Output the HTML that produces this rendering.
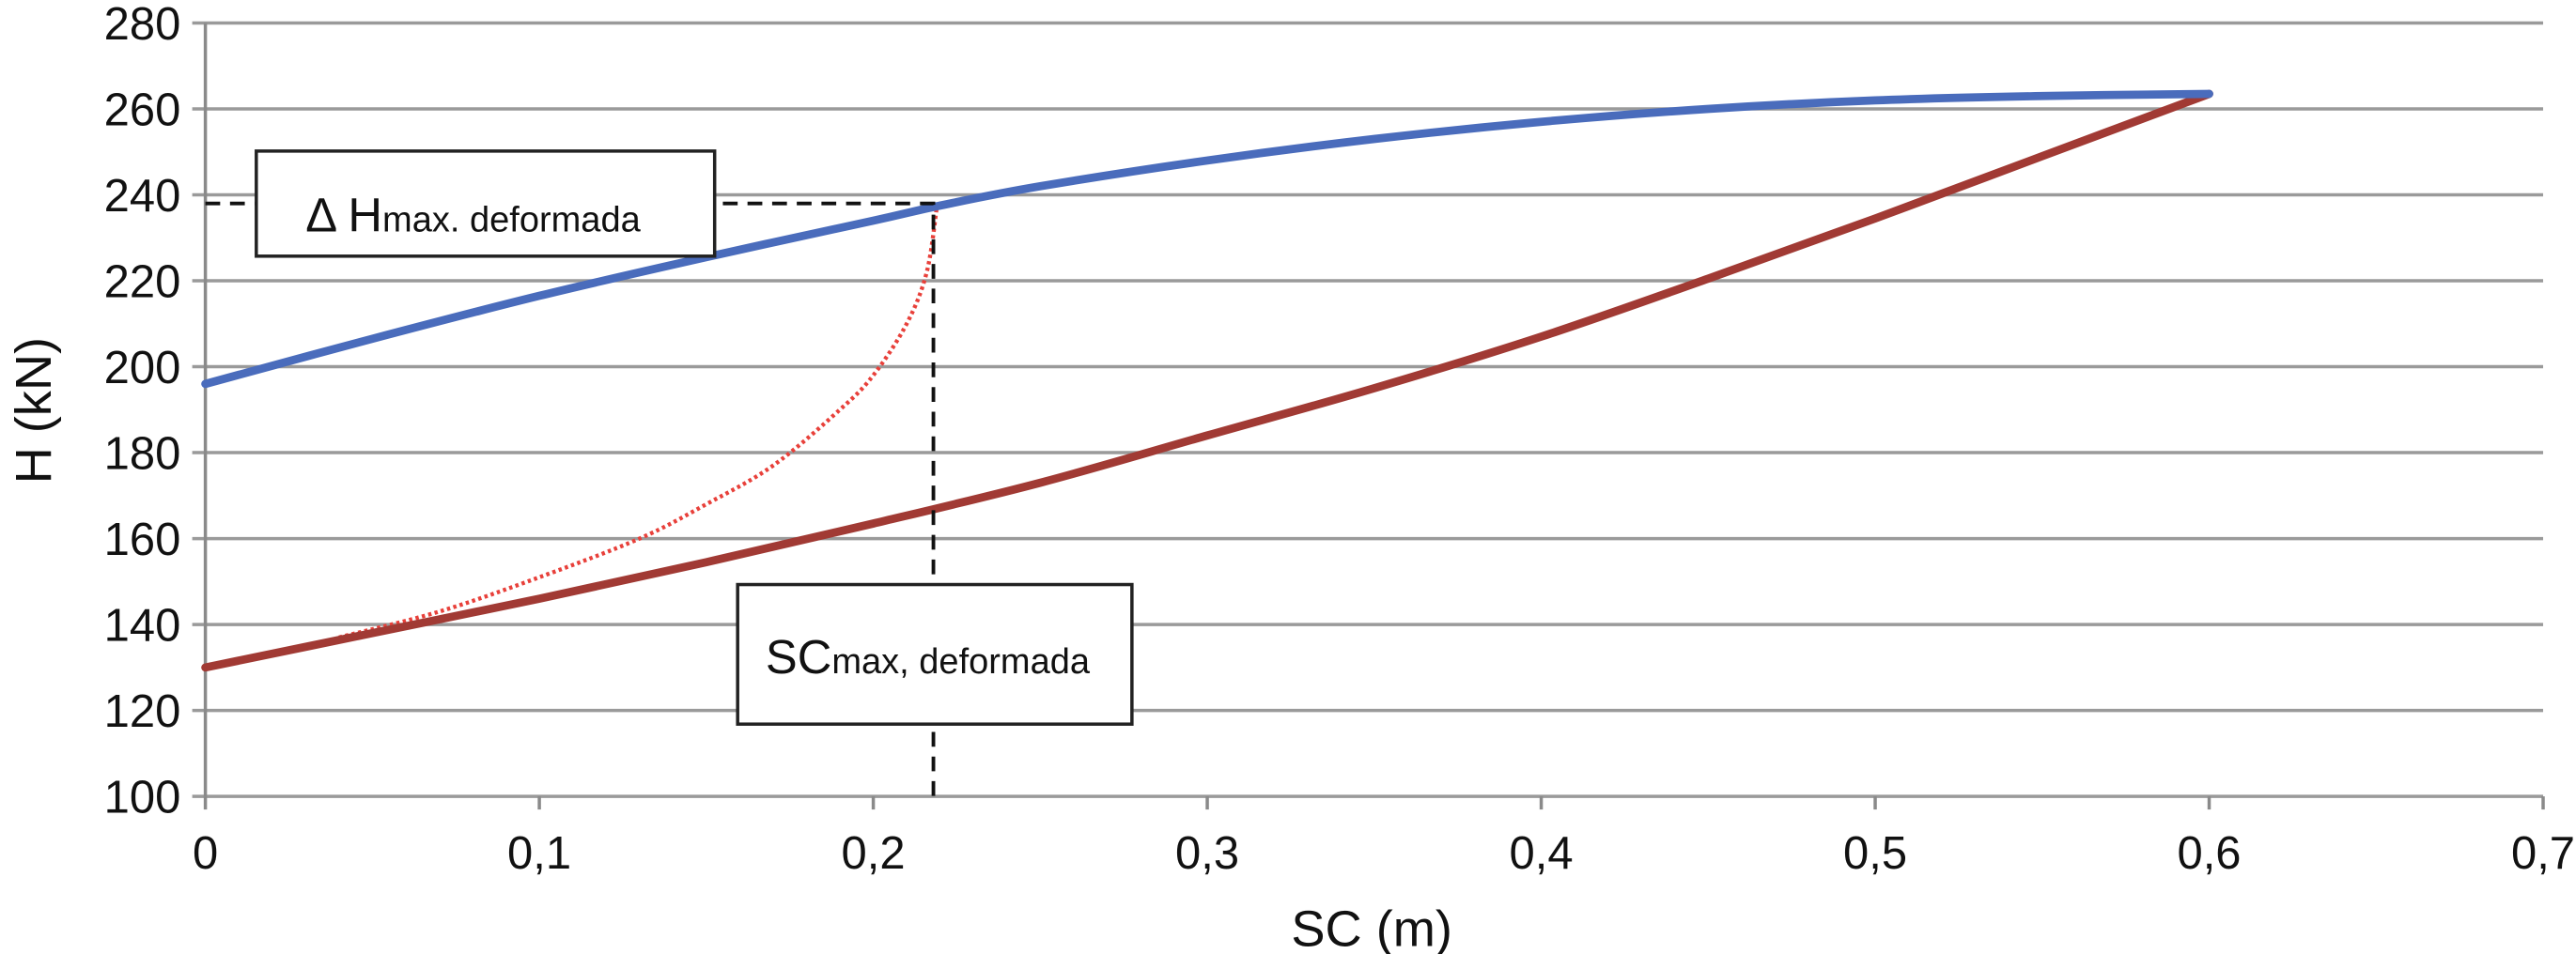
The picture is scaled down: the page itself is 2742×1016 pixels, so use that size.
<!DOCTYPE html>
<html><head><meta charset="utf-8"><style>
html,body{margin:0;padding:0;background:#fff;}
svg{display:block;}
text{font-family:"Liberation Sans",Arial,sans-serif;fill:#111;}
</style></head><body>
<svg id="chart" width="2742" height="1016" viewBox="0 0 1568 581" xmlns="http://www.w3.org/2000/svg">
<g id="grid"></g>
<g id="axes"></g>
<g id="series"></g>
<g id="annot"></g>
<text x="835" y="576" font-size="31" text-anchor="middle">SC (m)</text>
<text transform="translate(31,250) rotate(-90)" font-size="31" text-anchor="middle">H (kN)</text>
</svg>
<script>
const xTicks=[0,0.1,0.2,0.3,0.4,0.5,0.6,0.7];
const xTickLabels=["0","0,1","0,2","0,3","0,4","0,5","0,6","0,7"];
const yTicks=[100,120,140,160,180,200,220,240,260,280];
const blueX=[0,0.05,0.1,0.15,0.2,0.22,0.25,0.3,0.35,0.4,0.45,0.5,0.55,0.6];
const blueY=[196,206.5,216.5,225.5,234,237.5,242,248,253,257,260,262,263,263.5];
const redX=[0,0.05,0.1,0.15,0.2,0.25,0.3,0.35,0.4,0.45,0.5,0.55,0.6];
const redY=[130,138,146,154.5,163.5,173,184,195,207,220.5,234.5,249,263.5];
const dotX=[0.04,0.07,0.1,0.13,0.15,0.17,0.19,0.2,0.21,0.216,0.219];
const dotY=[137,143,151,160,168,177,190,198,210,222,237];
const markX=0.218, markY=238;

const X0=125,X1=1548,Y0=485,Y1=14;
const sx=v=>X0+(v-0)/(0.7)*(X1-X0);
const sy=v=>Y0-(v-100)/180*(Y0-Y1);
const NS="http://www.w3.org/2000/svg";
function mk(tag,attrs,parent){const e=document.createElementNS(NS,tag);for(const k in attrs)e.setAttribute(k,attrs[k]);parent.appendChild(e);return e;}
const grid=document.getElementById('grid'),axes=document.getElementById('axes'),series=document.getElementById('series'),annot=document.getElementById('annot');

yTicks.forEach(v=>{
  const l=mk('line',{x1:117,x2:X1,y1:sy(v),y2:sy(v),stroke:'#9a9a9a','stroke-width':2},grid);
  
  
  const t=mk('text',{x:110,y:sy(v)+10,'font-size':28,'text-anchor':'end'},axes);
  t.textContent=v;
  
  
});
const ax=mk('line',{x1:X0,x2:X0,y1:Y1,y2:Y0,stroke:'#8a8a8a','stroke-width':2},axes);


xTicks.forEach((v,i)=>{
  const tk=mk('line',{x1:sx(v),x2:sx(v),y1:Y0,y2:Y0+8,stroke:'#8a8a8a','stroke-width':2},axes);
  
  
  const t=mk('text',{x:sx(v),y:Y0+44,'font-size':28,'text-anchor':'middle'},axes);
  t.textContent=xTickLabels[i];
  
  
});

function smooth(xs,ys){
  const p=xs.map((x,i)=>[sx(x),sy(ys[i])]);
  let d='M'+p[0][0]+','+p[0][1];
  for(let i=0;i<p.length-1;i++){
    const p0=p[i-1]||p[i],p1=p[i],p2=p[i+1],p3=p[i+2]||p2;
    const c1=[p1[0]+(p2[0]-p0[0])/6,p1[1]+(p2[1]-p0[1])/6];
    const c2=[p2[0]-(p3[0]-p1[0])/6,p2[1]-(p3[1]-p1[1])/6];
    d+=' C'+c1[0]+','+c1[1]+' '+c2[0]+','+c2[1]+' '+p2[0]+','+p2[1];
  }
  return d;
}
const dl=mk('path',{d:'M'+sx(0)+','+sy(markY)+' H'+sx(markX)+' V'+sy(100),fill:'none',stroke:'#111','stroke-width':2.2,'stroke-dasharray':'9,6'},annot);



const dot=mk('path',{d:smooth(dotX,dotY),fill:'none',stroke:'#e8403a','stroke-width':2.5,'stroke-dasharray':'2,2'},series);


const red=mk('path',{d:smooth(redX,redY),fill:'none',stroke:'#a13a34','stroke-width':5,'stroke-linecap':'round'},series);


const blue=mk('path',{d:smooth(blueX,blueY),fill:'none',stroke:'#4a6cbc','stroke-width':5,'stroke-linecap':'round'},series);



function box(x,y,w,h,name,main,sub,tx,ty,fs){
  const g=mk('g',{},annot);
  
  
  mk('rect',{x:x,y:y,width:w,height:h,fill:'#fff',stroke:'#222','stroke-width':2},g);
  const t=mk('text',{x:tx,y:ty,'font-size':fs},g);
  t.innerHTML=main+'<tspan font-size="'+(fs*0.75)+'">'+sub+'</tspan>';
}
box(156,92,279,64,'delta-h-max-label','Δ H','max. deformada',186,141,29);
box(449,356,240,85,'sc-max-label','SC','max, deformada',466,410,29);
</script>
</body></html>
